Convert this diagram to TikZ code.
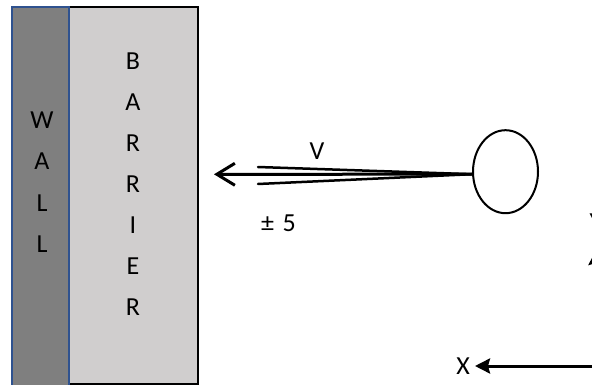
\documentclass[tikz,border=0pt]{standalone}
\usepackage{fontspec}
\setmainfont{Carlito}
\usetikzlibrary{arrows.meta,shapes.geometric}
\definecolor{wallgray}{HTML}{7F7F7F}
\definecolor{wallblue}{HTML}{2F528F}
\definecolor{barriergray}{HTML}{D0CECE}
\begin{document}
\begin{tikzpicture}[x=1pt,y=-1pt,
  lbl/.style={font=\fontsize{26}{31}\selectfont, inner sep=0pt, anchor=center},
  velline/.style={line width=2.5pt, line cap=round},
  axis/.style={line width=3pt, -{Stealth[length=15pt,width=15pt,inset=2pt]}}]
\clip (0,0) rectangle (592,385);
\useasboundingbox (0,0) rectangle (592,385);
% barrier and wall
\fill[white] (0,0) rectangle (592,385);
\draw[fill=barriergray, line width=1.5pt] (69,7) rectangle (198,384);
\draw[fill=wallgray, draw=wallblue, line width=1.5pt] (12,7) rectangle (69,388);
% letters
\foreach \t [count=\i] in {W,A,L,L}
  \node[lbl] (w\i) at (42,{120+41.5*(\i-1)}) {\t};
\foreach \t [count=\i] in {B,A,R,R,I,E,R}
  \node[lbl] (b\i) at (133,{61+41*(\i-1)}) {\t};
% ball
\node[draw, ellipse, line width=2pt, minimum width=65pt, minimum height=83pt, inner sep=0pt] (ball) at (505.5,171.7) {};
\coordinate (src) at ([yshift=-2.5pt]ball.west);
\coordinate (tip) at (214,174.3);
\coordinate (up) at (258,167);
\coordinate (dn) at (258,184);
\draw[velline, line width=3pt, -{Straight Barb[length=18pt,width=22pt,line width=3pt]}] (src) -- (tip);
\draw[velline] (src) -- (up);
\draw[velline] (src) -- (dn);
\node[lbl] (v) at (317,151) {V};
\node[lbl] (pm) at (278.5,223) {±\,\,5};
% axes
\coordinate (o) at (596,366);
\coordinate (xend) at (475,366);
\coordinate (yend) at (596,250);
\draw[axis] (o) -- (xend);
\draw[axis] (o) -- (yend);
\node[lbl, anchor=east] (xl) at (470,366) {X};
\node[lbl] (yl) at (596,222) {Y};
\end{tikzpicture}
\end{document}
